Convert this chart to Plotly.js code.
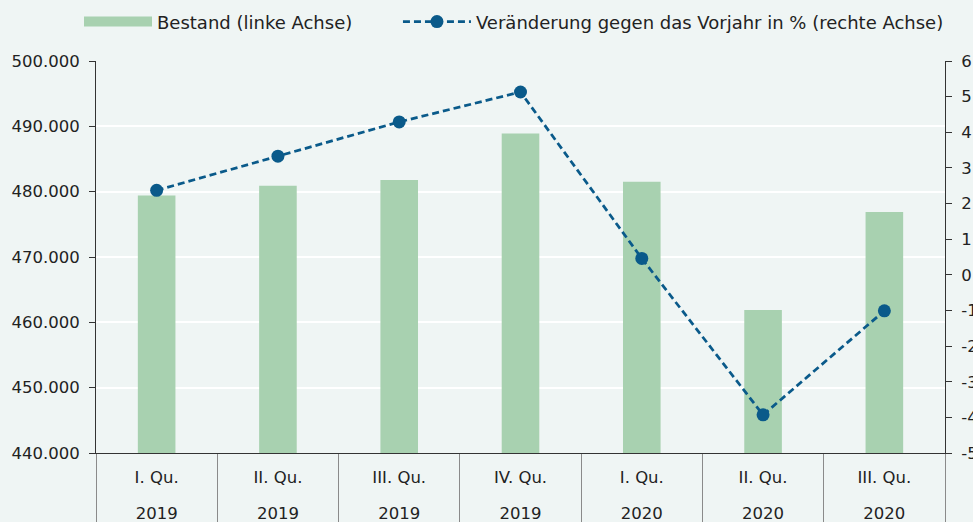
<!DOCTYPE html>
<html>
<head>
<meta charset="utf-8">
<script src="https://cdn.plot.ly/plotly-3.0.1.min.js"></script>
<style>html,body{margin:0;padding:0;background:#eff5f4;}</style>
</head>
<body>
<div id="chart" style="width:973px;height:522px;"></div>
<script>
const quarters = ["I. Qu.", "II. Qu.", "III. Qu.", "IV. Qu.", "I. Qu.", "II. Qu.", "III. Qu."];
const years = ["2019", "2019", "2019", "2019", "2020", "2020", "2020"];
const categories = ["Q1 2019", "Q2 2019", "Q3 2019", "Q4 2019", "Q1 2020", "Q2 2020", "Q3 2020"];
const bestand = [479400, 480900, 481800, 488900, 481500, 461900, 476900];
const veraenderung = [2.37, 3.33, 4.29, 5.13, 0.46, -3.93, -1.01];
const seriesNames = ["Bestand (linke Achse)", "Veränderung gegen das Vorjahr in % (rechte Achse)"];
const rightTickVals = [-5, -4, -3, -2, -1, 0, 1, 2, 3, 4, 5, 6];
const rightTickText = ["-5", "-4", "-3", "-2", "-1", "0", "1", "2", "3", "4", "5", "6"];

const FONT = "DejaVu Sans";
const txt = "#222222";
const barColor = "#a8d1b0";
const lineColor = "#0a5a8a";
const xRange = [-0.5, categories.length - 0.5];

const traces = [
  {
    // legend proxy for the bars (wide swatch like the reference); draws nothing in the plot
    type: "scatter", mode: "lines", name: seriesNames[0], legend: "legend",
    x: categories, y: categories.map(() => null), xaxis: "x", yaxis: "y",
    line: {color: barColor, width: 14},
    hoverinfo: "skip"
  },
  {
    type: "bar", name: seriesNames[0], showlegend: false,
    x: categories, y: bestand, xaxis: "x", yaxis: "y",
    marker: {color: barColor},
    hoverinfo: "skip"
  },
  {
    type: "scatter", mode: "lines+markers",
    name: seriesNames[1], legend: "legend2",
    x: categories, y: veraenderung, xaxis: "x2", yaxis: "y2",
    line: {color: lineColor, width: 2.75, dash: "7px,4px"},
    marker: {color: lineColor, size: 13},
    hoverinfo: "skip"
  }
];

const legendBase = {
  orientation: "h", xref: "container", yref: "container",
  xanchor: "left", y: 0.958, yanchor: "middle",
  font: {family: FONT, size: 18, color: txt},
  bgcolor: "rgba(0,0,0,0)", itemwidth: 68
};

const layout = {
  width: 973, height: 522,
  margin: {l: 96, r: 28, t: 61, b: 69},
  paper_bgcolor: "#eff5f4", plot_bgcolor: "#eff5f4",
  font: {family: FONT, size: 16.5, color: txt},
  separators: ",.",
  bargap: 0.69,
  showlegend: true,
  legend: Object.assign({}, legendBase, {x: 0.0812}),
  legend2: Object.assign({}, legendBase, {x: 0.409}),
  xaxis: {
    type: "category", categoryorder: "array", categoryarray: categories, range: xRange,
    tickmode: "array", tickvals: categories, ticktext: quarters,
    ticks: "outside", tickson: "boundaries", ticklen: 75, tickcolor: "#8a8a8a", tickwidth: 1,
    ticklabelstandoff: 9,
    showline: true, linecolor: "#333333", linewidth: 1,
    showgrid: false, zeroline: false,
    tickfont: {family: FONT, size: 16.5, color: txt}
  },
  xaxis2: {
    type: "category", categoryorder: "array", categoryarray: categories, range: xRange,
    overlaying: "x", side: "bottom", anchor: "y",
    tickmode: "array", tickvals: categories, ticktext: years,
    ticks: "", ticklabelstandoff: 48,
    showline: false, showgrid: false, zeroline: false,
    tickfont: {family: FONT, size: 16.5, color: txt}
  },
  yaxis: {
    range: [440000, 500000], dtick: 10000, tickformat: ",d",
    ticks: "outside", ticklen: 6, tickcolor: "#333333", ticklabelstandoff: 6,
    showline: true, linecolor: "#333333", linewidth: 1,
    showgrid: true, gridcolor: "#ffffff", gridwidth: 2, zeroline: false,
    tickfont: {family: FONT, size: 16.5, color: txt}
  },
  yaxis2: {
    range: [-5, 6], tickmode: "array", tickvals: rightTickVals, ticktext: rightTickText,
    overlaying: "y", side: "right", anchor: "x",
    ticks: "outside", ticklen: 6, tickcolor: "#333333", ticklabelstandoff: 6,
    showline: true, linecolor: "#333333", linewidth: 1,
    showgrid: false, zeroline: false,
    tickfont: {family: FONT, size: 16.5, color: txt}
  }
};

Plotly.newPlot("chart", traces, layout, {displayModeBar: false, staticPlot: true});
</script>
</body>
</html>
